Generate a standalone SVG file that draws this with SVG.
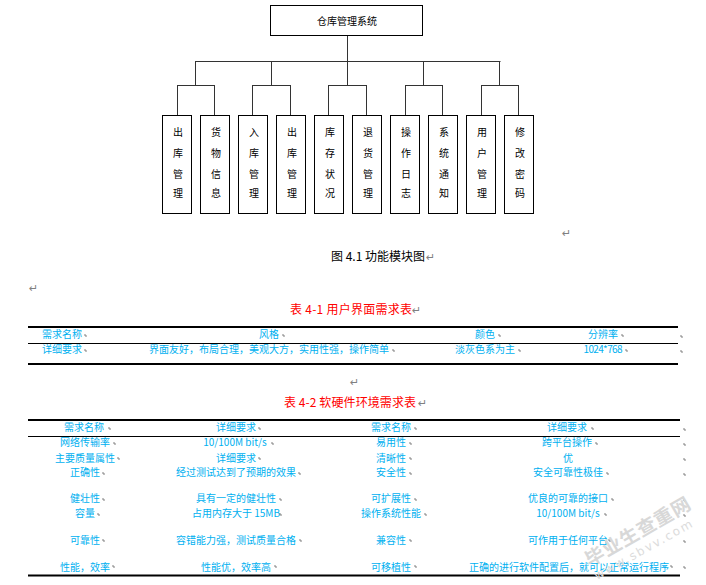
<svg xmlns="http://www.w3.org/2000/svg" width="706" height="585" viewBox="0 0 706 585">
<style>
text{font-family:"Noto Sans CJK SC","Liberation Sans",sans-serif}
.box{fill:#fff;stroke:#000;stroke-width:1}
.n{font-size:10px;fill:#000;text-anchor:middle}
.c{fill:none;stroke:#333;stroke-width:1}
.t{font-size:10px;fill:#00b0f0;text-anchor:middle}
.r{font-size:12px;fill:#f00}
.cap{font-size:12px;fill:#000}
.m{font-size:11px;fill:#808080;font-family:"DejaVu Sans",sans-serif}
.cm{fill:none;stroke:#808080;stroke-width:1}
.thick{stroke:#000;stroke-width:2}
.thin{stroke:#000;stroke-width:1}
.wm{fill:#d8d8d8;font-weight:700;font-size:19px}
.wm2{fill:#dcdcdc;font-size:12px;font-family:"DejaVu Sans",sans-serif;letter-spacing:2px}
</style>
<defs><path id="cm" class="cm" d="M0 0h2v2"/></defs>
<g id="connectors" class="c">
<path d="M347.500 35V85.500M195.500 61.500H500.500M195.500 61V85M271.500 61V85M347.500 61V85M423.500 61V85M499.500 61V85"/>
<path d="M177.500 85.500H214.500M177.500 85V115M214.500 85V115M252.500 85.500H290.500M252.500 85V115M290.500 85V115M328.500 85.500H366.500M328.500 85V115M366.500 85V115M405.500 85.500H442.500M405.500 85V115M442.500 85V115M481.500 85.500H518.500M481.500 85V115M518.500 85V115"/>
</g>
<g id="root"><rect class="box" x="270.500" y="5.500" width="152" height="30"/><text class="n" x="347" y="25">仓库管理系统</text></g>
<g id="n1"><rect class="box" x="162.500" y="115.500" width="29" height="98"/><text class="n" x="178" y="136">出</text><text class="n" x="178" y="157">库</text><text class="n" x="178" y="178">管</text><text class="n" x="178" y="197">理</text></g>
<g id="n2"><rect class="box" x="200.500" y="115.500" width="29" height="98"/><text class="n" x="216" y="136">货</text><text class="n" x="216" y="157">物</text><text class="n" x="216" y="178">信</text><text class="n" x="216" y="197">息</text></g>
<g id="n3"><rect class="box" x="238.500" y="115.500" width="29" height="98"/><text class="n" x="254" y="136">入</text><text class="n" x="254" y="157">库</text><text class="n" x="254" y="178">管</text><text class="n" x="254" y="197">理</text></g>
<g id="n4"><rect class="box" x="276.500" y="115.500" width="29" height="98"/><text class="n" x="292" y="136">出</text><text class="n" x="292" y="157">库</text><text class="n" x="292" y="178">管</text><text class="n" x="292" y="197">理</text></g>
<g id="n5"><rect class="box" x="314.500" y="115.500" width="29" height="98"/><text class="n" x="330" y="136">库</text><text class="n" x="330" y="157">存</text><text class="n" x="330" y="178">状</text><text class="n" x="330" y="197">况</text></g>
<g id="n6"><rect class="box" x="352.500" y="115.500" width="29" height="98"/><text class="n" x="368" y="136">退</text><text class="n" x="368" y="157">货</text><text class="n" x="368" y="178">管</text><text class="n" x="368" y="197">理</text></g>
<g id="n7"><rect class="box" x="390.500" y="115.500" width="29" height="98"/><text class="n" x="406" y="136">操</text><text class="n" x="406" y="157">作</text><text class="n" x="406" y="178">日</text><text class="n" x="406" y="197">志</text></g>
<g id="n8"><rect class="box" x="428.500" y="115.500" width="29" height="98"/><text class="n" x="444" y="136">系</text><text class="n" x="444" y="157">统</text><text class="n" x="444" y="178">通</text><text class="n" x="444" y="197">知</text></g>
<g id="n9"><rect class="box" x="466.500" y="115.500" width="29" height="98"/><text class="n" x="482" y="136">用</text><text class="n" x="482" y="157">户</text><text class="n" x="482" y="178">管</text><text class="n" x="482" y="197">理</text></g>
<g id="n10"><rect class="box" x="504.500" y="115.500" width="29" height="98"/><text class="n" x="520" y="136">修</text><text class="n" x="520" y="157">改</text><text class="n" x="520" y="178">密</text><text class="n" x="520" y="197">码</text></g>
<g id="captions">
<text class="cap" x="331" y="261" textLength="94">图 4.1 功能模块图</text>
<text class="r" x="290" y="314" textLength="122">表 4-1 用户界面需求表</text>
<text class="r" x="284" y="407" textLength="132">表 4-2 软硬件环境需求表</text>
<text class="m" x="562" y="237">↵</text><text class="m" x="426" y="261">↵</text><text class="m" x="29" y="292">↵</text><text class="m" x="412" y="314">↵</text><text class="m" x="350" y="386">↵</text><text class="m" x="418" y="407">↵</text>
</g>
<g id="table1">
<path class="thick" d="M28 327H678M28 364H678"/><path class="thin" d="M28 343.500H678"/>
<text class="t" x="62" y="338">需求名称</text><text class="t" x="269" y="338">风格</text><text class="t" x="485" y="338">颜色</text><text class="t" x="603" y="338">分辨率</text>
<text class="t" x="62" y="353">详细要求</text><text class="t" x="269" y="353">界面友好，布局合理，美观大方，实用性强，操作简单</text><text class="t" x="485" y="353">淡灰色系为主</text><text class="t" x="603" y="353" textLength="39">1024*768</text>
</g>
<g id="table2">
<path class="thick" d="M28 420H680M28 575.500H680"/><path class="thin" d="M28 436.500H680"/>
<text class="t" x="84" y="431">需求名称</text><text class="t" x="236" y="431">详细要求</text><text class="t" x="391" y="431">需求名称</text><text class="t" x="567" y="431">详细要求</text>
<text class="t" x="85" y="446">网络传输率</text><text class="t" x="235" y="446">10/100M bit/s</text><text class="t" x="391" y="446">易用性</text><text class="t" x="567" y="446">跨平台操作</text>
<text class="t" x="85" y="462">主要质量属性</text><text class="t" x="236" y="462">详细要求</text><text class="t" x="391" y="462">清晰性</text><text class="t" x="568" y="462">优</text>
<text class="t" x="85" y="476">正确性</text><text class="t" x="236" y="476">经过测试达到了预期的效果</text><text class="t" x="391" y="476">安全性</text><text class="t" x="568" y="476">安全可靠性极佳</text>
<text class="t" x="85" y="502">健壮性</text><text class="t" x="236" y="502">具有一定的健壮性</text><text class="t" x="391" y="502">可扩展性</text><text class="t" x="568" y="502">优良的可靠的接口</text>
<text class="t" x="85" y="517">容量</text><text class="t" x="236" y="517">占用内存大于 15MB</text><text class="t" x="391" y="517">操作系统性能</text><text class="t" x="568" y="517">10/100M bit/s</text>
<text class="t" x="85" y="544">可靠性</text><text class="t" x="236" y="544">容错能力强，测试质量合格</text><text class="t" x="391" y="544">兼容性</text><text class="t" x="568" y="544">可作用于任何平台</text>
<text class="t" x="85" y="571">性能，效率</text><text class="t" x="236" y="571">性能优，效率高</text><text class="t" x="391" y="571">可移植性</text><text class="t" x="569" y="571">正确的进行软件配置后，就可以正常运行程序</text>
</g>
<g id="cell-marks">
<use href="#cm" x="84" y="335"/><use href="#cm" x="282" y="335"/><use href="#cm" x="498" y="335"/><use href="#cm" x="621" y="335"/><use href="#cm" x="680" y="336"/>
<use href="#cm" x="84" y="350"/><use href="#cm" x="392" y="350"/><use href="#cm" x="518" y="350"/><use href="#cm" x="625" y="350"/><use href="#cm" x="680" y="351"/>
<use href="#cm" x="108" y="428"/><use href="#cm" x="258" y="428"/><use href="#cm" x="414" y="428"/><use href="#cm" x="591" y="428"/><use href="#cm" x="683" y="429"/>
<use href="#cm" x="113" y="443"/><use href="#cm" x="271" y="443"/><use href="#cm" x="409" y="443"/><use href="#cm" x="595" y="443"/><use href="#cm" x="683" y="444"/>
<use href="#cm" x="117" y="458"/><use href="#cm" x="258" y="458"/><use href="#cm" x="409" y="458"/><use href="#cm" x="683" y="459"/>
<use href="#cm" x="102" y="473"/><use href="#cm" x="298" y="473"/><use href="#cm" x="409" y="473"/><use href="#cm" x="606" y="473"/><use href="#cm" x="683" y="474"/>
<use href="#cm" x="102" y="499"/><use href="#cm" x="279" y="499"/><use href="#cm" x="414" y="499"/><use href="#cm" x="611" y="499"/><use href="#cm" x="683" y="500"/>
<use href="#cm" x="97" y="514"/><use href="#cm" x="279" y="514"/><use href="#cm" x="424" y="514"/><use href="#cm" x="604" y="514"/><use href="#cm" x="683" y="515"/>
<use href="#cm" x="102" y="540"/><use href="#cm" x="299" y="540"/><use href="#cm" x="409" y="540"/><use href="#cm" x="608" y="540"/><use href="#cm" x="683" y="541"/>
<use href="#cm" x="112" y="566"/><use href="#cm" x="274" y="566"/><use href="#cm" x="414" y="566"/><use href="#cm" x="670" y="566"/><use href="#cm" x="683" y="567"/>
</g>
<g id="watermark">
<text class="wm" transform="translate(590 567) rotate(-30)" textLength="118">毕业生查重网</text>
<text class="wm2" transform="translate(597 580) rotate(-29)" textLength="112">www.sbvv.com</text>
</g>
</svg>
